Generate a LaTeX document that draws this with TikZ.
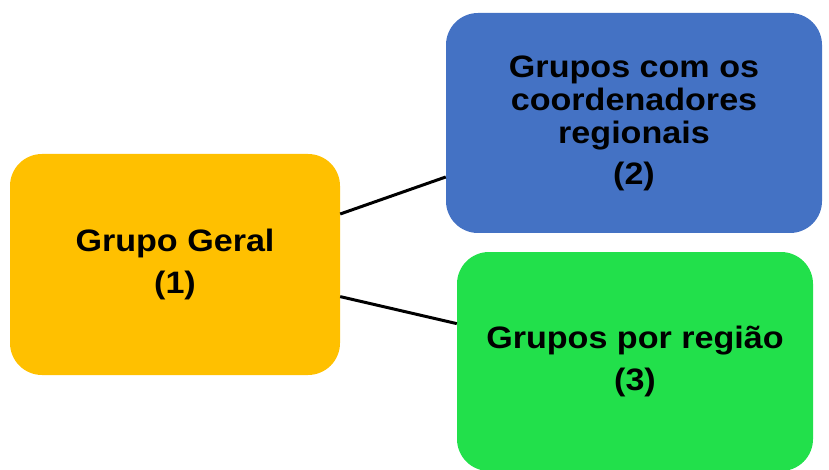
\documentclass[tikz,border=0pt]{standalone}
\usepackage{fontspec}
\setmainfont[FakeStretch=1.1]{Liberation Sans}
\usepackage{tikz}

\definecolor{geral}{HTML}{FFC000}
\definecolor{coord}{HTML}{4472C4}
\definecolor{regiao}{HTML}{22E04B}

\begin{document}
\begin{tikzpicture}[x=1pt,y=-1pt,
    group_node/.style={rectangle,rounded corners=32pt,align=center,inner sep=0pt,
        font=\fontsize{31}{33}\selectfont\bfseries},
    link/.style={line width=3pt,black}]

    \useasboundingbox (0,0) rectangle (829,470);

    \node[group_node, fill=geral, minimum width=330pt, minimum height=221pt] (1) at (175, 264.5)
        {Grupo Geral\\[9pt](1)};
    \node[group_node, fill=coord, minimum width=376pt, minimum height=220pt] (2) at (634, 123)
        {Grupos com os\\coordenadores\\regionais\\[8pt](2)};
    \node[group_node, fill=regiao, minimum width=356pt, minimum height=219pt] (3) at (635, 361.5)
        {Grupos por região\\[9pt](3)};

    \draw[link] (1.17.5) -- (2.196.9);
    \draw[link] (1.-11.6) -- (3.168.1);

\end{tikzpicture}
\end{document}
